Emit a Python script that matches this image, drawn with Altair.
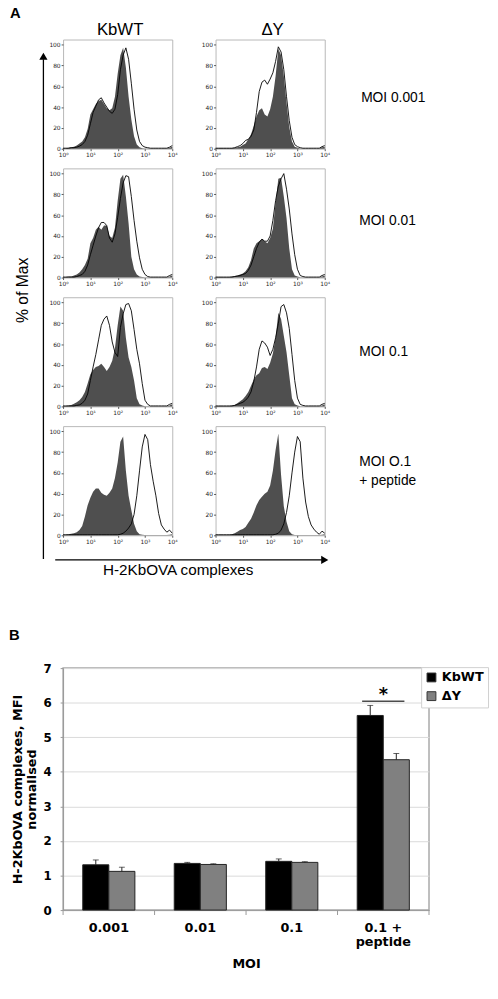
import json
import altair as alt
import pandas as pd

# ---------------- Panel A data (flow cytometry histograms) ----------------
LOG_X = [0.0, 0.1, 0.2, 0.3, 0.4, 0.5, 0.6, 0.7, 0.8, 0.9,
         1.0, 1.1, 1.2, 1.3, 1.4, 1.5, 1.6, 1.7, 1.8, 1.9,
         2.0, 2.1, 2.2, 2.3, 2.4, 2.5, 2.6, 2.7, 2.8, 2.9,
         3.0, 3.1, 3.2, 3.3, 3.4, 3.5, 3.6, 3.7, 3.8, 3.9, 4.0]
X_TICK_LABELS = ["10⁰", "10¹", "10²", "10³", "10⁴"]
Y_TICKS = [0, 20, 40, 60, 80, 100]
SAMPLES = ["KbWT", "ΔY"]
CONDITIONS = ["MOI 0.001", "MOI 0.01", "MOI 0.1", "MOI O.1\n+ peptide"]

FILLED_KBWT_0001 = [0.5, 0.5, 1, 1.5, 2, 3, 5, 7, 11, 19,
                    33, 38, 43, 46, 47, 43, 39, 37, 39, 50,
                    72, 90, 97, 78, 50, 28, 12, 4, 1.5, 0.5,
                    0.3, 0.3, 0.3, 0.3, 0.3, 0.3, 0.3, 0.3, 0.3, 1, 2]
OPEN_KBWT_0001 = [0.5, 0.5, 0.5, 1, 1, 1.5, 2.5, 4, 7, 13,
                  24, 35, 41, 47, 49, 44, 40, 36, 34, 38,
                  52, 76, 90, 97, 86, 63, 38, 18, 7, 3,
                  1.5, 1, 0.5, 0.5, 0.5, 0.5, 0.5, 0.5, 0.5, 1.5, 3]
FILLED_DY_0001 = [0.5, 0.5, 0.5, 0.5, 0.5, 0.5, 0.5, 1, 1.5, 2,
                  3.5, 5, 9, 14, 22, 31, 37, 39, 33, 31,
                  38, 50, 70, 96, 90, 70, 44, 21, 7, 2,
                  1, 0.3, 0.3, 0.3, 0.3, 0.3, 0.3, 0.3, 0.3, 1.5, 2]
OPEN_DY_0001 = [0.5, 0.5, 0.5, 0.5, 0.5, 0.5, 0.5, 1, 2, 3,
                5, 8, 9, 12, 18, 35, 55, 64, 66, 62,
                67, 73, 84, 98, 93, 76, 50, 27, 11, 4,
                2, 1, 0.5, 0.5, 0.5, 0.5, 0.5, 0.5, 0.5, 2, 3]
FILLED_KBWT_001 = [0.5, 0.5, 1, 1, 2, 3, 5, 8, 12, 18,
                   33, 38, 46, 49, 46, 50, 50, 40, 38, 48,
                   74, 95, 99, 78, 52, 20, 8, 3, 1, 0.5,
                   0.3, 0.3, 0.3, 0.3, 0.3, 0.3, 0.3, 0.3, 0.3, 1, 2]
OPEN_KBWT_001 = [0.5, 0.5, 0.5, 0.5, 0.5, 1, 2, 3, 6, 12,
                 22, 31, 40, 48, 53, 53, 50, 38, 34, 42,
                 58, 76, 91, 98, 97, 78, 55, 35, 19, 8,
                 3, 1, 0.5, 0.5, 0.5, 0.5, 0.5, 0.5, 0.5, 2, 3]
FILLED_DY_001 = [0.5, 0.5, 0.5, 0.5, 0.5, 0.5, 1, 1.5, 2, 3,
                 4, 6, 10, 17, 28, 33, 35, 37, 35, 33,
                 38, 47, 72, 95, 96, 78, 57, 28, 8, 2,
                 1, 0.3, 0.3, 0.3, 0.3, 0.3, 0.3, 0.3, 0.3, 1, 2]
OPEN_DY_001 = [0.5, 0.5, 0.5, 0.5, 0.5, 0.5, 0.5, 1, 1.5, 2,
               3, 4, 7, 12, 20, 28, 34, 37, 35, 35,
               40, 55, 74, 88, 95, 100, 85, 66, 42, 22,
               8, 2, 1, 0.5, 0.5, 0.5, 0.5, 0.5, 0.5, 2, 3]
FILLED_KBWT_01 = [0.5, 0.5, 1, 1.5, 2.5, 4, 6, 9, 14, 22,
                  31, 35, 38, 39, 41, 38, 34, 38, 44, 56,
                  78, 96, 92, 66, 47, 38, 25, 8, 2, 1,
                  0.3, 0.3, 0.3, 0.3, 0.3, 0.3, 0.3, 0.3, 0.3, 1, 2]
OPEN_KBWT_01 = [0.5, 0.5, 0.5, 0.5, 0.5, 1, 1.5, 3, 6, 12,
                25, 38, 50, 64, 78, 84, 87, 78, 62, 52,
                48, 76, 89, 98, 99, 92, 74, 55, 41, 22,
                6, 2, 0.5, 0.5, 0.5, 0.5, 0.5, 0.5, 0.5, 2, 3]
FILLED_DY_01 = [0.5, 0.5, 0.5, 0.5, 0.5, 0.5, 1, 1.5, 3, 5,
                7, 10, 14, 20, 26, 30, 32, 37, 38, 36,
                42, 51, 66, 90, 84, 68, 52, 30, 8, 2,
                1, 0.3, 0.3, 0.3, 0.3, 0.3, 0.3, 0.3, 0.3, 1, 2]
OPEN_DY_01 = [0.5, 0.5, 0.5, 0.5, 0.5, 0.5, 0.5, 1, 2, 3,
              4, 6, 9, 14, 24, 38, 55, 63, 61, 57,
              49, 55, 66, 80, 96, 98, 90, 75, 50, 25,
              8, 2, 1, 0.5, 0.5, 0.5, 0.5, 0.5, 0.5, 2, 3]
FILLED_KBWT_PEP = [0.5, 0.5, 1, 1.5, 2, 3, 5, 9, 18, 29,
                   36, 42, 45, 45, 41, 39, 38, 41, 45, 55,
                   70, 90, 95, 62, 38, 24, 11, 4, 1, 0.5,
                   0.3, 0.3, 0.3, 0.3, 0.3, 0.3, 0.3, 0.3, 0.3, 0.5, 1]
OPEN_KBWT_PEP = [0.5, 0.5, 0.5, 0.5, 0.5, 0.5, 0.5, 0.5, 0.5, 0.5,
                 0.5, 0.5, 0.5, 0.5, 0.5, 0.5, 0.5, 0.5, 0.5, 0.5,
                 0.5, 1, 2, 4, 7, 11, 20, 38, 62, 85,
                 97, 92, 68, 52, 38, 21, 10, 6, 3, 5, 2]
FILLED_DY_PEP = [0.5, 0.5, 0.5, 0.5, 0.5, 0.5, 1, 2, 3.5, 5,
                 6, 8, 12, 16, 22, 29, 34, 37, 40, 42,
                 48, 62, 82, 98, 58, 28, 13, 4, 1, 0.3,
                 0.3, 0.3, 0.3, 0.3, 0.3, 0.3, 0.3, 0.3, 0.3, 0.5, 1]
OPEN_DY_PEP = [0.5, 0.5, 0.5, 0.5, 0.5, 0.5, 0.5, 0.5, 0.5, 0.5,
               0.5, 0.5, 0.5, 0.5, 0.5, 0.5, 0.5, 0.5, 0.5, 0.5,
               0.5, 0.5, 1, 2, 5, 11, 22, 38, 60, 80,
               95, 90, 55, 32, 18, 10, 6, 3, 1, 4, 2]

CURVES = {
    (CONDITIONS[0], "KbWT"): (FILLED_KBWT_0001, OPEN_KBWT_0001),
    (CONDITIONS[0], "ΔY"): (FILLED_DY_0001, OPEN_DY_0001),
    (CONDITIONS[1], "KbWT"): (FILLED_KBWT_001, OPEN_KBWT_001),
    (CONDITIONS[1], "ΔY"): (FILLED_DY_001, OPEN_DY_001),
    (CONDITIONS[2], "KbWT"): (FILLED_KBWT_01, OPEN_KBWT_01),
    (CONDITIONS[2], "ΔY"): (FILLED_DY_01, OPEN_DY_01),
    (CONDITIONS[3], "KbWT"): (FILLED_KBWT_PEP, OPEN_KBWT_PEP),
    (CONDITIONS[3], "ΔY"): (FILLED_DY_PEP, OPEN_DY_PEP),
}

# ---------------- Panel B data (bar chart) ----------------
MOI_LABELS = ["0.001", "0.01", "0.1", "0.1 + peptide"]
B_Y_TICKS = [0, 1, 2, 3, 4, 5, 6, 7]
KBWT_MEAN = [1.31, 1.35, 1.41, 5.63]
KBWT_ERR = [0.14, 0.03, 0.07, 0.29]
DY_MEAN = [1.12, 1.32, 1.38, 4.35]
DY_ERR = [0.12, 0.02, 0.02, 0.18]
SIG_LEVEL = [6.04]

# ---------------- helpers ----------------
HW, HH = 111, 111
BW, BH = 372, 246


def annot_text(text, x, y, size, weight="normal", align="left", baseline="alphabetic",
               angle=None, font="Liberation Sans", line_height=None):
    mk = dict(align=align, baseline=baseline, fontSize=size, fontWeight=weight,
              font=font, color="black")
    if angle is not None:
        mk["angle"] = angle
    if line_height is not None:
        mk["lineHeight"] = line_height
        mk["lineBreak"] = "\n"
    return alt.Chart(pd.DataFrame({"t": [text]})).mark_text(**mk).encode(
        x=alt.value(x), y=alt.value(y), text="t:N")


def one_row():
    return pd.DataFrame({"a": [0]})


x_label_expr = json.dumps(X_TICK_LABELS, ensure_ascii=False) + "[datum.value]"

H_X_AXIS = alt.Axis(values=[0, 1, 2, 3, 4], labelExpr=x_label_expr, title=None,
                    labelFontSize=6, labelFont="DejaVu Sans", labelColor="#222",
                    tickSize=2, tickColor="#555", domain=False, grid=False,
                    labelPadding=1, labelFlush=False, labelOverlap=False)
H_Y_AXIS = alt.Axis(values=Y_TICKS, title=None, labelFontSize=6, labelFont="DejaVu Sans",
                    labelColor="#222", tickSize=2, tickColor="#555", domain=False,
                    grid=False, labelPadding=1, labelFlush=False, labelOverlap=False)
H_X_SCALE = alt.Scale(domain=[0, 4], nice=False, zero=False)
H_Y_SCALE = alt.Scale(domain=[0, 105], nice=False)


def hist_panel(cond, sample, extras):
    filled, open_ = CURVES[(cond, sample)]
    d = pd.DataFrame({"lx": LOG_X, "filled": filled, "open": open_})
    base = alt.Chart(d)
    x = alt.X("lx:Q", scale=H_X_SCALE, axis=H_X_AXIS)
    area = base.mark_area(color="#4f4f4f", interpolate="linear").encode(
        x=x, y=alt.Y("filled:Q", scale=H_Y_SCALE, axis=H_Y_AXIS))
    line = base.mark_line(color="black", strokeWidth=0.9, interpolate="linear").encode(
        x=x, y=alt.Y("open:Q", scale=H_Y_SCALE, axis=H_Y_AXIS))
    return alt.layer(area, line, *extras).properties(
        width=HW, height=HH, view=alt.ViewBackground(stroke="#b8b8b8", strokeWidth=1))


# annotations for panel A
extras_11 = [
    annot_text("A", -54, -22, 15, weight="bold"),
    annot_text("KbWT", 58, -5, 17, align="center"),
    annot_text("% of Max", -41, 255, 16, align="center", baseline="middle", angle=270),
    alt.Chart(one_row()).mark_rule(color="black", strokeWidth=1.3).encode(
        x=alt.value(-20), y=alt.value(20), y2=alt.value(528)),
    alt.Chart(one_row()).mark_point(shape="triangle-up", filled=True, size=70,
                                    color="black", opacity=1).encode(
        x=alt.value(-20), y=alt.value(17)),
]
extras_12 = [
    annot_text("ΔY", 58, -5, 17, align="center"),
    annot_text(CONDITIONS[0], 148, 63, 14),
]
extras_22 = [annot_text(CONDITIONS[1], 146, 58, 14)]
extras_32 = [annot_text(CONDITIONS[2], 146, 60, 14)]
extras_42 = [annot_text(CONDITIONS[3], 146, 41, 14, line_height=19)]
extras_41 = [
    alt.Chart(one_row()).mark_rule(color="black", strokeWidth=1.3).encode(
        x=alt.value(-8), x2=alt.value(263), y=alt.value(136)),
    alt.Chart(one_row()).mark_point(shape="triangle-right", filled=True, size=70,
                                    color="black", opacity=1).encode(
        x=alt.value(266), y=alt.value(136)),
    annot_text("H-2KbOVA complexes", 117, 151, 15.5, align="center"),
]

panels = [
    hist_panel(CONDITIONS[0], "KbWT", extras_11),
    hist_panel(CONDITIONS[0], "ΔY", extras_12),
    hist_panel(CONDITIONS[1], "KbWT", []),
    hist_panel(CONDITIONS[1], "ΔY", extras_22),
    hist_panel(CONDITIONS[2], "KbWT", []),
    hist_panel(CONDITIONS[2], "ΔY", extras_32),
    hist_panel(CONDITIONS[3], "KbWT", extras_41),
    hist_panel(CONDITIONS[3], "ΔY", extras_42),
]

panel_a = alt.concat(*panels, columns=2, bounds="flush",
                     spacing={"row": 20, "column": 44})

# ---------------- Panel B chart ----------------
bdf = pd.DataFrame({
    "moi": MOI_LABELS * 2,
    "group": [SAMPLES[0]] * 4 + [SAMPLES[1]] * 4,
    "mean": KBWT_MEAN + DY_MEAN,
    "err": KBWT_ERR + DY_ERR,
})
bdf["top"] = bdf["mean"] + bdf["err"]

B_X_SCALE = alt.Scale(paddingInner=0, paddingOuter=0)
B_X_AXIS = alt.Axis(title="MOI", labelAngle=0, ticks=False, tickSize=0, domainColor="#999",
                    labelFont="DejaVu Sans", labelFontWeight="bold", labelFontSize=13,
                    labelColor="black", labelPadding=12, labelLineHeight=14,
                    labelOverlap=False,
                    labelExpr="datum.value == '0.1 + peptide' ? ['0.1 +', 'peptide'] : datum.value",
                    titleFont="DejaVu Sans", titleFontWeight="bold", titleFontSize=13,
                    titleColor="black", titlePadding=9)
B_Y_SCALE = alt.Scale(domain=[0, 7], nice=False)
B_Y_AXIS = alt.Axis(values=B_Y_TICKS, grid=True, gridColor="#d9d9d9",
                    domainColor="#999", tickColor="#999", tickSize=3,
                    labelFont="DejaVu Sans", labelFontWeight="bold", labelFontSize=12,
                    labelColor="black", labelPadding=9, labelOverlap=False,
                    title=["H-2KbOVA complexes, MFI", "normalised"],
                    titleFont="DejaVu Sans", titleFontWeight="bold", titleFontSize=13,
                    titleColor="black", titlePadding=5, titleLineHeight=14)


def bx():
    return alt.X("moi:N", sort=MOI_LABELS, scale=B_X_SCALE, axis=B_X_AXIS)


x_off = alt.XOffset("group:N", sort=SAMPLES,
                    scale=alt.Scale(paddingOuter=0.755, paddingInner=0))
color_b = alt.Color("group:N", sort=SAMPLES,
                    scale=alt.Scale(domain=SAMPLES, range=["#000000", "#808080"]),
                    legend=alt.Legend(orient="none", legendX=364, legendY=-1, title=None,
                                      labelFont="DejaVu Sans", labelFontWeight="bold",
                                      labelFontSize=13, labelColor="black",
                                      symbolType="square", symbolSize=81,
                                      symbolStrokeColor="#333", symbolStrokeWidth=1,
                                      strokeColor="#d0d0d0", fillColor="white",
                                      padding=4, rowPadding=5, labelOffset=4))

bbase = alt.Chart(bdf)
bars = bbase.mark_bar(stroke="#222", strokeWidth=1).encode(
    x=bx(), xOffset=x_off,
    y=alt.Y("mean:Q", scale=B_Y_SCALE, axis=B_Y_AXIS), color=color_b)
err_rule = bbase.mark_rule(color="#222", strokeWidth=1).encode(
    x=bx(), xOffset=x_off,
    y=alt.Y("mean:Q", scale=B_Y_SCALE, axis=B_Y_AXIS), y2="top:Q")
err_cap = bbase.mark_tick(color="#222", thickness=1, size=6).encode(
    x=bx(), xOffset=x_off,
    y=alt.Y("top:Q", scale=B_Y_SCALE, axis=B_Y_AXIS))
boundary_ticks = alt.Chart(pd.DataFrame({"moi": MOI_LABELS})).mark_rule(
    color="#999", strokeWidth=1).encode(
    x=alt.X("moi:N", sort=MOI_LABELS, scale=B_X_SCALE, axis=B_X_AXIS, bandPosition=0),
    y=alt.value(BH), y2=alt.value(BH + 5))
end_tick = alt.Chart(one_row()).mark_rule(color="#999", strokeWidth=1).encode(
    x=alt.value(BW), y=alt.value(BH), y2=alt.value(BH + 5))
sig_df = pd.DataFrame({"moi": [MOI_LABELS[3]], "level": SIG_LEVEL, "t": ["*"]})
sig_line = alt.Chart(sig_df).mark_tick(color="black", thickness=1.5, size=43).encode(
    x=bx(), y=alt.Y("level:Q", scale=B_Y_SCALE, axis=B_Y_AXIS))
sig_star = alt.Chart(sig_df).mark_text(fontSize=18, fontWeight="bold", font="DejaVu Sans",
                                       color="black", baseline="middle", dy=-6).encode(
    x=bx(), y=alt.Y("level:Q", scale=B_Y_SCALE, axis=B_Y_AXIS), text="t:N")
b_letter = annot_text("B", -55, -29, 15, weight="bold")

panel_b = alt.layer(bars, err_rule, err_cap, boundary_ticks, end_tick, sig_line, sig_star,
                    b_letter).properties(
    width=BW, height=BH, view=alt.ViewBackground(stroke="#a8a8a8", strokeWidth=1.5))

# panel_a has no own size in a flush layout, so the spacing is measured from its top
chart = alt.vconcat(panel_a, panel_b, spacing=639, bounds="flush").resolve_scale(
    color="independent").resolve_legend(color="independent").properties(
    padding={"left": 0, "right": 0, "top": -11, "bottom": 0}).configure(
    font="Liberation Sans")

chart.save("out.html", embed_options={"renderer": "svg", "actions": False})
